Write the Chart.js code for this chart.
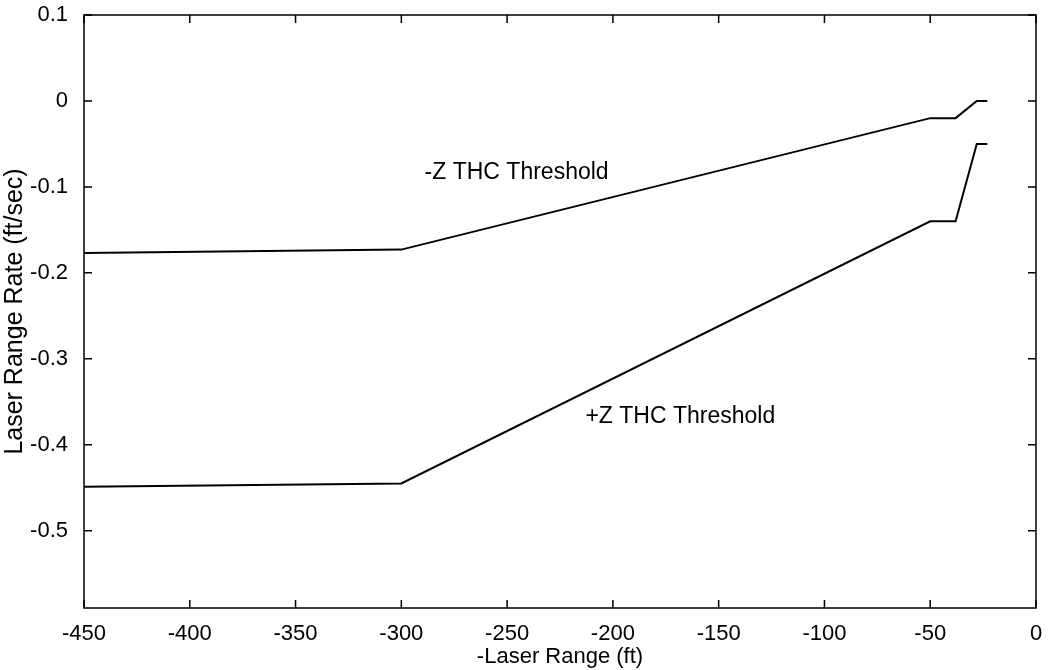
<!DOCTYPE html>
<html>
<head>
<meta charset="UTF-8">
<title>THC Threshold</title>
<script src="https://cdn.jsdelivr.net/npm/chart.js@4.4.0/dist/chart.umd.min.js"></script>
<style>
  body { margin: 0; background: #fff; }
  #wrap { width: 1052px; height: 670px; }
</style>
</head>
<body>
<div id="wrap"><canvas id="myChart" width="1052" height="670"></canvas></div>
<script>
// values
var minusZRange = [-450, -300, -50, -38, -28, -23];
var minusZRate  = [-0.177, -0.173, -0.02, -0.02, 0, 0];
var plusZRange  = [-450, -300, -50, -38, -28, -23];
var plusZRate   = [-0.449, -0.445, -0.14, -0.14, -0.05, -0.05];

var curveLabels = [
  { text: '-Z THC Threshold', x: -289, y: -0.083 },
  { text: '+Z THC Threshold', x: -213, y: -0.367 }
];

var fontFam = '"Liberation Sans", Arial, Helvetica, sans-serif';
var fontSize = 22;

function pts(xs, ys) {
  return xs.map(function (x, i) { return { x: x, y: ys[i] }; });
}

// box round the plot, inward ticks on all four sides, curve labels
var framePlugin = {
  id: 'frame',
  afterDatasetsDraw: function (chart) {
    var c = chart.ctx, a = chart.chartArea;
    var xs = chart.scales.x, ys = chart.scales.y;
    c.save();
    c.strokeStyle = '#000';
    c.lineWidth = 1.5;
    c.strokeRect(a.left, a.top, a.right - a.left, a.bottom - a.top);
    c.beginPath();
    xs.ticks.forEach(function (t) {
      var px = xs.getPixelForValue(t.value);
      c.moveTo(px, a.bottom); c.lineTo(px, a.bottom - 8);
      c.moveTo(px, a.top); c.lineTo(px, a.top + 8);
    });
    ys.ticks.forEach(function (t) {
      var py = ys.getPixelForValue(t.value);
      c.moveTo(a.left, py); c.lineTo(a.left + 8, py);
      c.moveTo(a.right, py); c.lineTo(a.right - 8, py);
    });
    c.stroke();
    c.fillStyle = '#000';
    c.font = (fontSize + 1) + 'px ' + fontFam;
    c.textBaseline = 'middle';
    curveLabels.forEach(function (l) {
      c.fillText(l.text, xs.getPixelForValue(l.x), ys.getPixelForValue(l.y));
    });
    c.restore();
  }
};

var ctx = document.getElementById('myChart').getContext('2d');
new Chart(ctx, {
  type: 'scatter',
  data: {
    datasets: [{
      label: '-Z THC Threshold',
      data: pts(minusZRange, minusZRate),
      showLine: true,
      borderColor: '#000',
      borderWidth: 2,
      pointRadius: 0
    }, {
      label: '+Z THC Threshold',
      data: pts(plusZRange, plusZRate),
      showLine: true,
      borderColor: '#000',
      borderWidth: 2,
      pointRadius: 0
    }]
  },
  options: {
    responsive: false,
    animation: false,
    layout: { padding: { top: 15, right: 16, left: 0, bottom: 0 } },
    plugins: { legend: { display: false }, tooltip: { enabled: false } },
    scales: {
      x: {
        type: 'linear',
        min: -450,
        max: 0,
        grid: { display: false },
        border: { display: false },
        ticks: {
          stepSize: 50,
          color: '#000',
          padding: 5,
          maxRotation: 0,
          font: { family: fontFam, size: fontSize }
        },
        title: {
          display: true,
          text: '-Laser Range (ft)',
          color: '#000',
          padding: { top: 0, bottom: 0 },
          font: { family: fontFam, size: fontSize }
        },
        afterFit: function (s) { s.height = 62; s.paddingLeft = 0; s.paddingRight = 0; }
      },
      y: {
        min: -0.59,
        max: 0.1,
        grid: { display: false },
        border: { display: false },
        ticks: {
          stepSize: 0.1,
          includeBounds: false,
          color: '#000',
          padding: 8,
          font: { family: fontFam, size: fontSize },
          callback: function (v) {
            var r = Math.round(v * 10) / 10;
            return r === 0 ? '0' : r.toFixed(1);
          }
        },
        title: {
          display: true,
          text: 'Laser Range Rate (ft/sec)',
          color: '#000',
          padding: { top: 0, bottom: 0 },
          font: { family: fontFam, size: 25 }
        },
        afterFit: function (s) { s.width = 84; s.paddingTop = 0; s.paddingBottom = 0; }
      }
    }
  },
  plugins: [framePlugin]
});
</script>
</body>
</html>
